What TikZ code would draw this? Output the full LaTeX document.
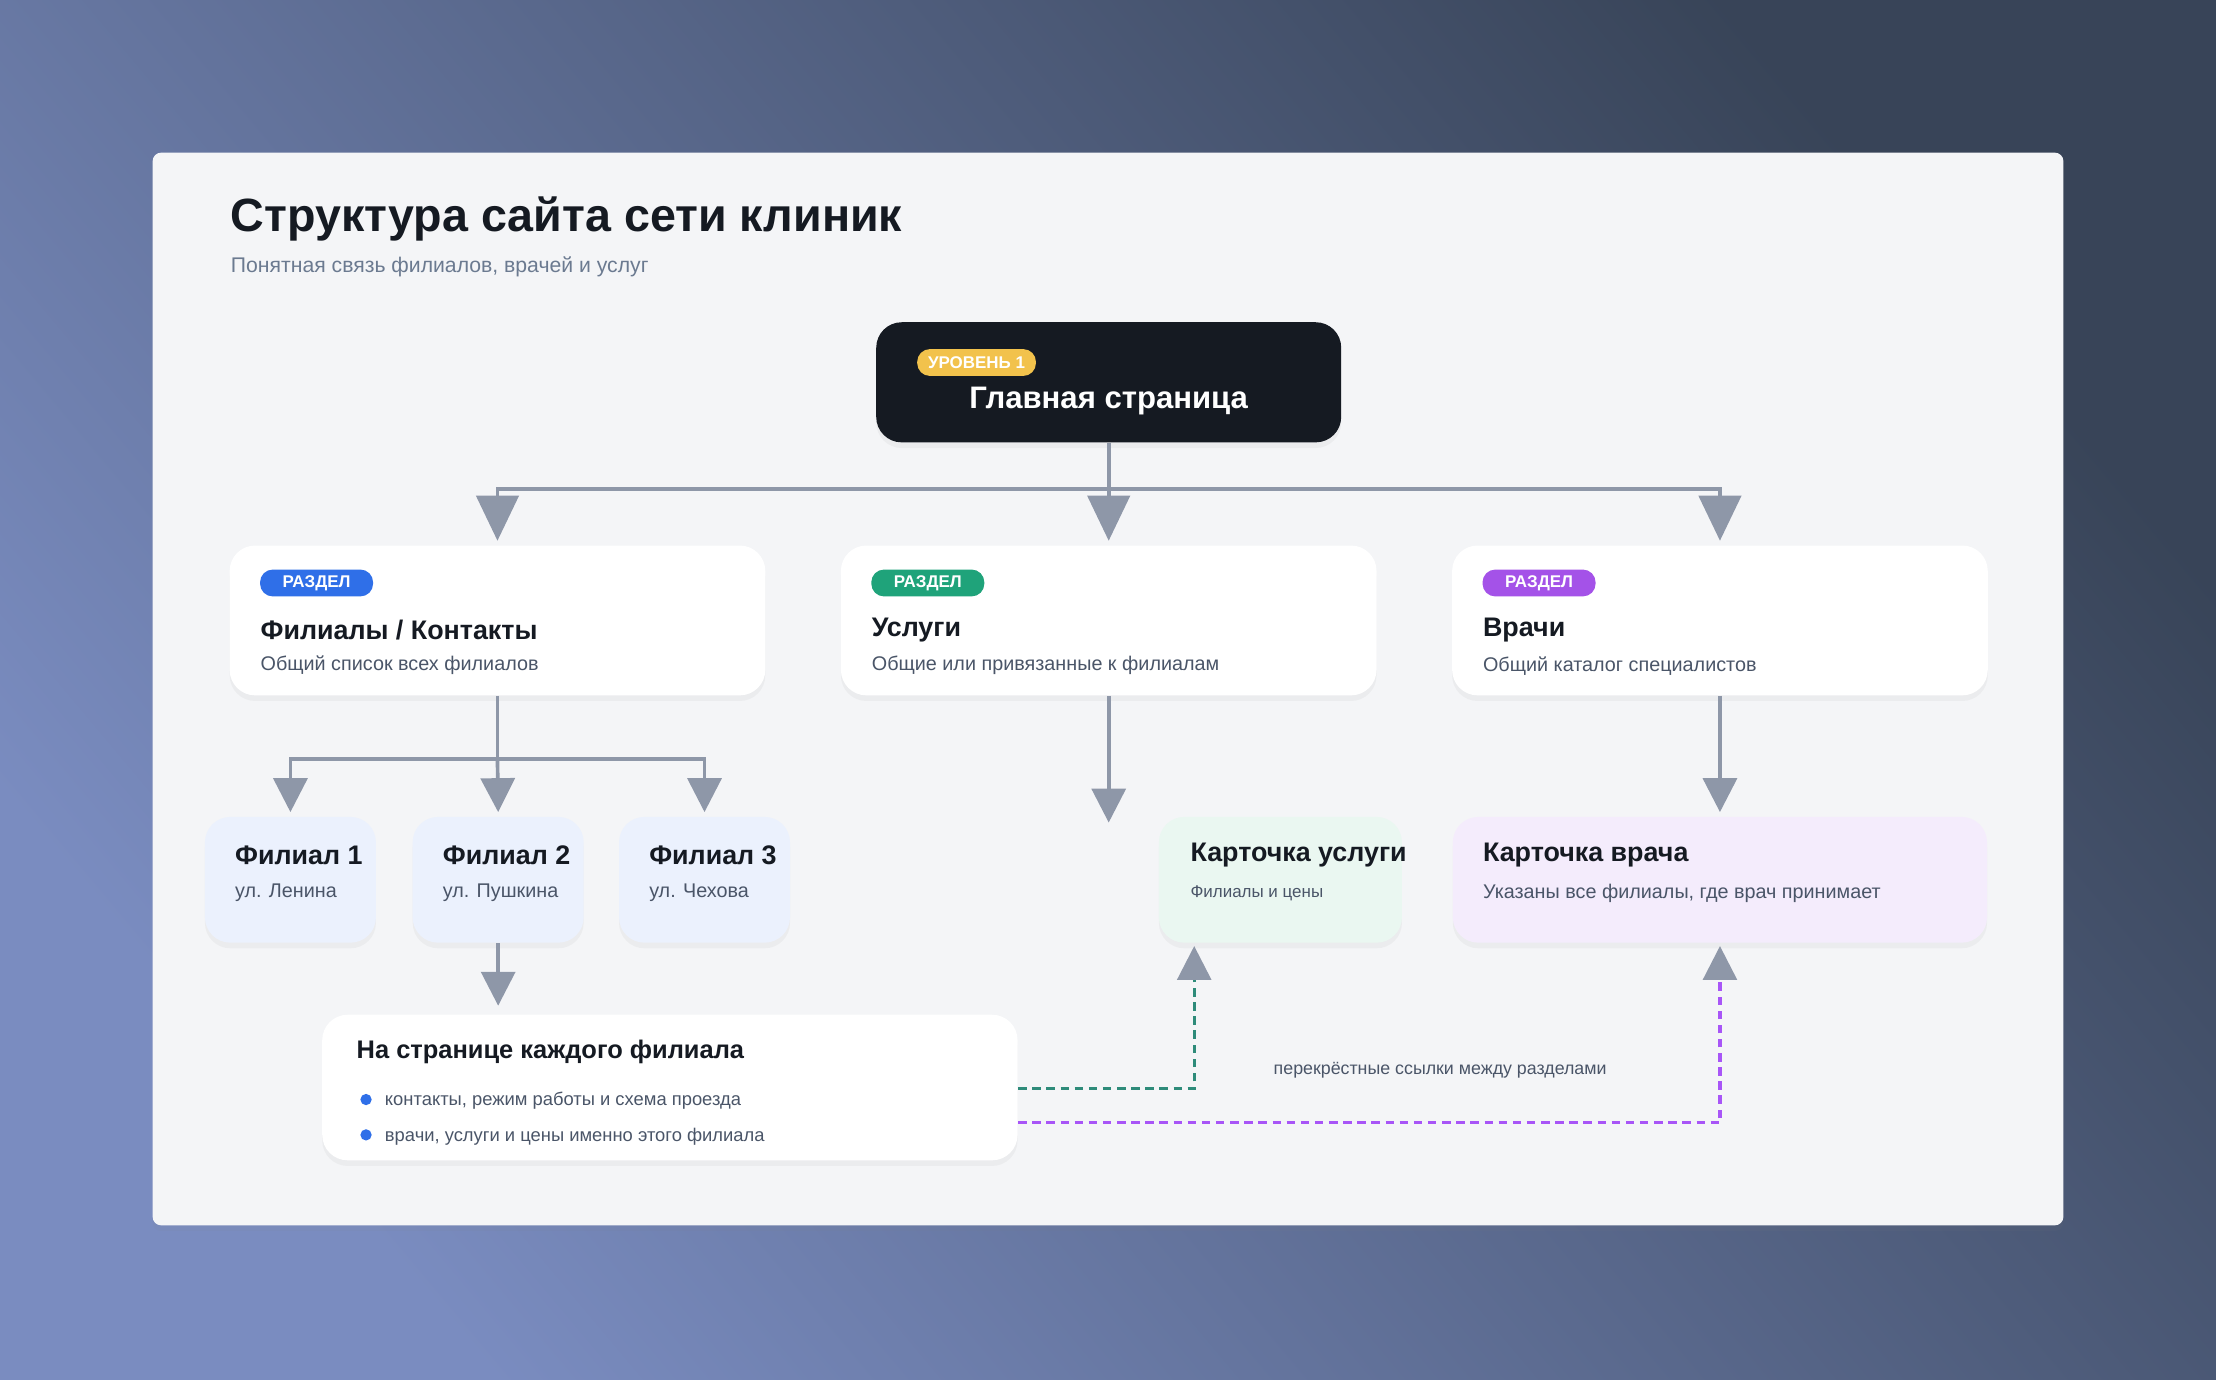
\documentclass[tikz,border=0pt]{standalone}
\usepackage{fontspec}
\setmainfont{Liberation Sans}
\usetikzlibrary{arrows.meta,shadows}
\definecolor{arr}{HTML}{8E97A8}
\definecolor{dark}{HTML}{151A22}
\definecolor{sub}{HTML}{4A5568}
\definecolor{gsub}{HTML}{6B7A90}
\definecolor{cblue}{HTML}{2F6FE8}
\definecolor{cgreen}{HTML}{1FA37A}
\definecolor{cpurp}{HTML}{A452E8}
\definecolor{teal}{HTML}{2E8B7A}
\definecolor{dpurp}{HTML}{A855F7}
\definecolor{glow}{RGB}{122,140,192}
\definecolor{bgmid}{RGB}{86,100,136}
\definecolor{bgdark}{RGB}{56,68,88}
\begin{document}
\begin{tikzpicture}[x=0.5pt,y=-0.5pt,
 card/.style={rounded corners=9pt,draw=none,drop shadow={opacity=0.07,shadow xshift=0pt,shadow yshift=-2pt}},
 badge/.style={rounded corners=4.5pt,inner sep=0pt,minimum height=9.5pt,text=white,font=\bfseries\fontsize{6}{6}\selectfont},
 ttl/.style={anchor=west,inner sep=0pt,font=\bfseries\fontsize{9.5}{10}\selectfont,text=dark},
 st/.style={anchor=west,inner sep=0pt,font=\fontsize{7}{8}\selectfont,text=sub},
 con/.style={draw=arr,line width=1.3pt},
 big/.style={con,-{Triangle[width=15pt,length=16pt]}},
 sm/.style={con,-{Triangle[width=12pt,length=12pt]}},
 dsh/.style={line width=1.1pt,dash pattern=on 3pt off 2pt,-{Triangle[width=12pt,length=12pt,color=arr]}}]
\shade[shading=axis,top color=bgdark,middle color=bgmid,bottom color=glow,shading angle=-50] (0,0) rectangle (1568,976);
\useasboundingbox (0,0) rectangle (1568,976);
\node[card,fill={rgb,255:red,244;green,245;blue,247},rounded corners=3pt,minimum width=676pt,minimum height=379.5pt,inner sep=0pt] (panel) at (784,487.5) {};
\node[anchor=west,inner sep=0pt,font=\bfseries\fontsize{16.5}{17}\selectfont,text=dark] (title) at (163,155) {Структура сайта сети клиник};
\node[anchor=west,inner sep=0pt,font=\fontsize{7.5}{8}\selectfont,text=gsub] (subt) at (163,189) {Понятная связь филиалов, врачей и услуг};
% main
\node[card,fill=dark,minimum width=164.5pt,minimum height=42.5pt] (main) at (784.5,270.5) {};
\node[badge,fill={rgb,255:red,242;green,194;blue,76},minimum width=42pt] (b0) at (691,256.5) {УРОВЕНЬ 1};
\node[inner sep=0pt,text=white,font=\bfseries\fontsize{11}{11}\selectfont] (mt) at (784.5,284) {Главная страница};
% sections
\foreach \n/\cx/\col/\t/\s in {s1/352/cblue/{Филиалы / Контакты}/{Общий список всех филиалов},s2/784.5/cgreen/{Услуги}/{Общие или привязанные к филиалам},s3/1217/cpurp/{Врачи}/{Общий каталог специалистов}}{
 \node[card,fill=white,minimum width=189.5pt,minimum height=53pt] (\n) at (\cx,439) {};
 \node[badge,fill=\col,minimum width=40pt] at (\cx-189+61,412.5) {РАЗДЕЛ};
 \node[ttl] at (\cx-189+21,446) {\t};
 \node[st] at (\cx-189+21,471) {\s};
}
% branches
\foreach \n/\cx/\t/\s in {f1/205.5/{Филиал 1}/{ул. Ленина},f2/352.5/{Филиал 2}/{ул. Пушкина},f3/498.5/{Филиал 3}/{ул. Чехова}}{
 \node[card,fill={rgb,255:red,235;green,241;blue,253},minimum width=60.5pt,minimum height=44.5pt] (\n) at (\cx,622.5) {};
 \node[ttl] at (\cx-39.5,605) {\t};
 \node[st] at (\cx-39.5,632) {\s};
}
\node[card,fill=white,minimum width=246pt,minimum height=51.5pt] (pg) at (474,769.5) {};
\node[ttl,font=\bfseries\fontsize{9}{10}\selectfont] at (252,744) {На странице каждого филиала};
\fill[cblue] (259,778) circle (2pt) (259,803) circle (2pt);
\node[st,font=\fontsize{6.5}{7}\selectfont] at (272,779) {контакты, режим работы и схема проезда};
\node[st,font=\fontsize{6.5}{7}\selectfont] at (272,804) {врачи, услуги и цены именно этого филиала};
\node[card,fill={rgb,255:red,234;green,247;blue,241},minimum width=86pt,minimum height=44.5pt] (ks) at (906,622.5) {};
\node[ttl] at (842,605) {Карточка услуги};
\node[st,font=\fontsize{6}{7}\selectfont] at (842,632) {Филиалы и цены};
\node[card,fill={rgb,255:red,244;green,236;blue,252},minimum width=189pt,minimum height=44.5pt] (kv) at (1217,622.5) {};
\node[ttl] at (1049,605) {Карточка врача};
\node[st] at (1049,632) {Указаны все филиалы, где врач принимает};
\node[inner sep=0pt,font=\fontsize{6.3}{7}\selectfont,text=sub] (lbl) at (1019,757) {перекрёстные ссылки между разделами};
% connectors
\coordinate (j) at (784.5,346);
\draw[con] (main.south) -- (j);
\draw[big] (j) -| ([yshift=1.5pt]s1.north);
\draw[big] (j) -- ([yshift=1.5pt]s2.north);
\draw[big] (j) -| ([yshift=1.5pt]s3.north);
\coordinate (j2) at (352,537);
\draw[con] (s1.south) -- (j2);
\draw[sm] (j2) -| ([yshift=1.5pt]f1.north);
\draw[sm] (j2) -- ([yshift=1.5pt]f2.north);
\draw[sm] (j2) -| ([yshift=1.5pt]f3.north);
\draw[sm] (f2.south) -- ([yshift=3pt]pg.north -| f2.south);
\coordinate (e2) at (784.5,582);
\draw[sm] (s2.south) -- (e2);
\draw[sm] (s3.south) -- ([yshift=1.5pt]kv.north);
\draw[dsh,draw=teal] ([yshift=-0.5pt]pg.east) -| ([xshift=-30.5pt,yshift=-1pt]ks.south);
\draw[dsh,draw=dpurp] ([yshift=-12.5pt]pg.east) -| ([yshift=-1pt]kv.south);
\end{tikzpicture}
\end{document}
